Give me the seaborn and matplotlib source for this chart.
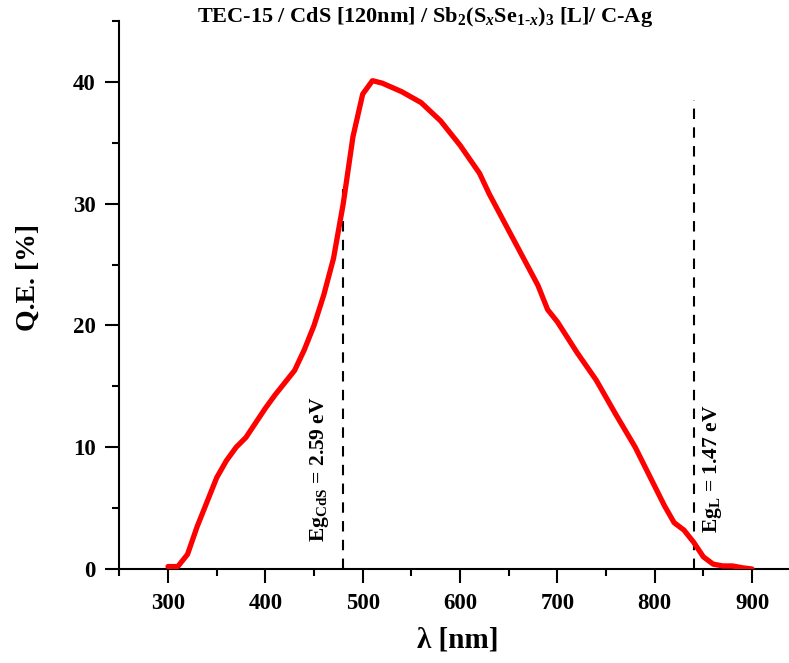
import numpy as np
import pandas as pd
import seaborn as sns
import matplotlib.pyplot as plt
from matplotlib.ticker import MultipleLocator

# spectrum
wavelength = [300, 310, 320, 330, 340, 350, 360, 370, 380, 390, 400, 410, 420, 430,
              440, 450, 460, 470, 480, 490, 500, 510, 520, 540, 560, 580, 600, 620,
              630, 640, 660, 680, 690, 700, 720, 740, 760, 780, 800, 810, 820, 830,
              840, 850, 860, 870, 880, 890, 900]
qe = [0.2, 0.2, 1.2, 3.5, 5.5, 7.5, 8.9, 10.0, 10.8, 12.0, 13.2, 14.3, 15.3, 16.3,
      18.0, 20.0, 22.5, 25.5, 30.0, 35.5, 39.0, 40.1, 39.9, 39.2, 38.3, 36.8, 34.8, 32.5,
      30.8, 29.3, 26.3, 23.3, 21.3, 20.3, 17.8, 15.5, 12.7, 10.0, 6.8, 5.2, 3.8, 3.2,
      2.2, 1.0, 0.4, 0.25, 0.25, 0.1, 0.0]

gap_x = [480, 840]
gap_top = [31.2, 38.5]
gap_labels = [r"Eg$_{\mathrm{CdS}}$ = 2.59 eV", r"Eg$_{\mathrm{L}}$ = 1.47 eV"]
gap_label_x = [456, 859]

sns.set_style("ticks")
plt.rcParams['font.family'] = ['Liberation Serif', 'DejaVu Serif']
plt.rcParams['font.weight'] = 'bold'
plt.rcParams['mathtext.fontset'] = 'custom'
plt.rcParams['mathtext.rm'] = 'Liberation Serif:bold'
plt.rcParams['mathtext.it'] = 'Liberation Serif:italic:bold'
plt.rcParams['mathtext.bf'] = 'Liberation Serif:bold'
for key in ['text.color', 'axes.labelcolor', 'xtick.color', 'ytick.color', 'axes.edgecolor']:
    plt.rcParams[key] = 'black'

df = pd.DataFrame({"wl": wavelength, "qe": qe})

fig = plt.figure(figsize=(7.89, 6.63), dpi=100)
ax = fig.add_axes([0.1513, 0.1418, 0.8487, 0.8265])

sns.lineplot(data=df, x="wl", y="qe", color="#ff0000", linewidth=3.8, ax=ax,
             solid_joinstyle="round", solid_capstyle="round", zorder=3)

for xv, top in zip(gap_x, gap_top):
    ax.plot([xv, xv], [0, top], color="black", linestyle=(0, (5, 4)), linewidth=1.5, zorder=2)
for xv, lab in zip(gap_label_x, gap_labels):
    ax.text(xv, 8.2, lab, rotation=90, ha="center", va="center", fontsize=15.5, fontweight="bold")

ax.set_xlim(250, 938)
ax.set_ylim(0, 45)
ax.xaxis.set_major_locator(MultipleLocator(100))
ax.xaxis.set_minor_locator(MultipleLocator(50))
ax.yaxis.set_major_locator(MultipleLocator(10))
ax.yaxis.set_minor_locator(MultipleLocator(5))
ax.set_xticks([300, 400, 500, 600, 700, 800, 900])
ax.tick_params(which="major", length=10, width=1.5, labelsize=16.5, pad=7)
ax.tick_params(which="minor", length=5, width=1.5)
for lab in ax.get_xticklabels() + ax.get_yticklabels():
    lab.set_fontweight("bold")

sns.despine(ax=ax)
ax.spines["left"].set_linewidth(1.5)
ax.spines["bottom"].set_linewidth(1.5)

ax.set_xlabel("")
ax.set_ylabel("")
fig.text(0.580, 0.035, "λ [nm]", ha="center", va="center", fontsize=21, fontweight="bold")
fig.text(0.036, 0.582, "Q.E. [%]", ha="center", va="center", rotation=90, fontsize=20, fontweight="bold")
fig.text(0.539, 0.975, r"TEC-15 / CdS [120nm] / Sb$_2$(S$_x$Se$_{1\text{-}x}$)$_3$ [L]/ C-Ag",
         ha="center", va="center", fontsize=16, fontweight="bold")

fig.savefig("out.png", dpi=100)
